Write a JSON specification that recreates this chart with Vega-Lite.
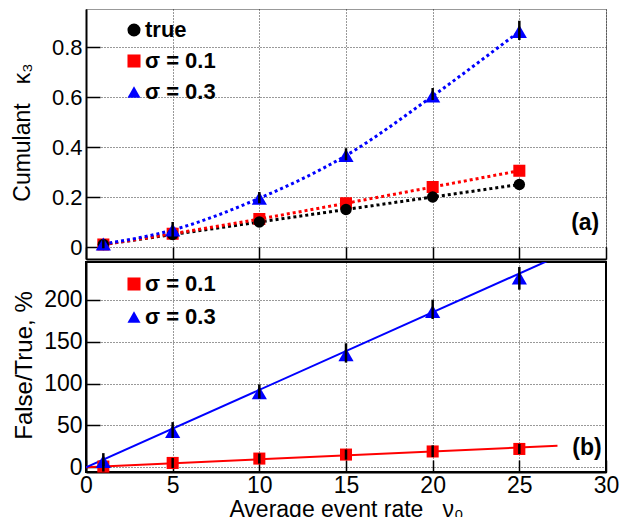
{
  "$schema": "https://vega.github.io/schema/vega-lite/v6.json",
  "autosize": {"type": "pad"},
  "padding": {"left": 10, "top": 8, "right": 5, "bottom": 0},
  "spacing": 0,
  "background": "white",
  "config": {
    "font": "Liberation Sans",
    "axis": {
      "domainColor": "black",
      "domainWidth": 2,
      "tickColor": "black",
      "tickWidth": 1.5,
      "grid": true,
      "gridColor": "black",
      "gridDash": [1, 2],
      "gridOpacity": 0.8,
      "gridWidth": 1,
      "labelColor": "black",
      "labelFont": "Liberation Sans",
      "titleFont": "Liberation Sans",
      "titleColor": "black",
      "titleFontWeight": "normal",
      "labelOverlap": false
    },
    "legend": {
      "orient": "none",
      "title": null,
      "padding": 0,
      "labelFontWeight": "bold",
      "labelColor": "black",
      "labelFont": "Liberation Sans",
      "symbolStrokeWidth": 0,
      "symbolSize": 170,
      "labelOffset": 0
    }
  },
  "datasets": {
    "top": [
      {"series": "σ = 0.1", "x": 1, "y": 0.010},
      {"series": "σ = 0.1", "x": 5, "y": 0.053},
      {"series": "σ = 0.1", "x": 10, "y": 0.112},
      {"series": "σ = 0.1", "x": 15, "y": 0.175},
      {"series": "σ = 0.1", "x": 20, "y": 0.240},
      {"series": "σ = 0.1", "x": 25, "y": 0.305},
      {"series": "true", "x": 1, "y": 0.010},
      {"series": "true", "x": 5, "y": 0.050},
      {"series": "true", "x": 10, "y": 0.100},
      {"series": "true", "x": 15, "y": 0.150},
      {"series": "true", "x": 20, "y": 0.200},
      {"series": "true", "x": 25, "y": 0.250},
      {"series": "σ = 0.3", "x": 1, "y": 0.012},
      {"series": "σ = 0.3", "x": 5, "y": 0.068},
      {"series": "σ = 0.3", "x": 10, "y": 0.195},
      {"series": "σ = 0.3", "x": 15, "y": 0.366},
      {"series": "σ = 0.3", "x": 20, "y": 0.604},
      {"series": "σ = 0.3", "x": 25, "y": 0.862}
    ],
    "topErr": [
      {"x": 1, "lo": -0.005, "hi": 0.030},
      {"x": 5, "lo": 0.035, "hi": 0.100},
      {"x": 10, "lo": 0.175, "hi": 0.220},
      {"x": 15, "lo": 0.347, "hi": 0.395},
      {"x": 20, "lo": 0.588, "hi": 0.636},
      {"x": 25, "lo": 0.828, "hi": 0.905}
    ],
    "bottom": [
      {"series": "σ = 0.1", "x": 1, "y": 1.0, "lo": -5, "hi": 7},
      {"series": "σ = 0.1", "x": 5, "y": 5.3, "lo": -0.7, "hi": 11.3},
      {"series": "σ = 0.1", "x": 10, "y": 10.5, "lo": 4.5, "hi": 16.5},
      {"series": "σ = 0.1", "x": 15, "y": 15.3, "lo": 9.3, "hi": 21.3},
      {"series": "σ = 0.1", "x": 20, "y": 19.0, "lo": 12.3, "hi": 26.3},
      {"series": "σ = 0.1", "x": 25, "y": 22.0, "lo": 16, "hi": 28},
      {"series": "σ = 0.3", "x": 1, "y": 7.0, "lo": 1.5, "hi": 17},
      {"series": "σ = 0.3", "x": 5, "y": 43.0, "lo": 35, "hi": 54},
      {"series": "σ = 0.3", "x": 10, "y": 89.0, "lo": 82, "hi": 99},
      {"series": "σ = 0.3", "x": 15, "y": 134.5, "lo": 125, "hi": 148},
      {"series": "σ = 0.3", "x": 20, "y": 186.0, "lo": 177, "hi": 200},
      {"series": "σ = 0.3", "x": 25, "y": 226.0, "lo": 212, "hi": 239}
    ],
    "fits": [
      {"series": "σ = 0.1", "x": 0, "y": 0.3},
      {"series": "σ = 0.1", "x": 27.2, "y": 25.8},
      {"series": "σ = 0.3", "x": 0, "y": 0},
      {"series": "σ = 0.3", "x": 27.2, "y": 251.6}
    ]
  },
  "vconcat": [
    {
      "width": 520,
      "height": 250,
      "view": {"stroke": "#999999", "strokeWidth": 1},
      "encoding": {
        "x": {
          "field": "x", "type": "quantitative",
          "scale": {"domain": [0, 30], "nice": false, "zero": false},
          "axis": {"values": [0, 5, 10, 15, 20, 25, 30], "labels": false, "title": null, "tickSize": -12}
        },
        "y": {
          "field": "y", "type": "quantitative",
          "scale": {"domain": [-0.048, 0.952], "nice": false, "zero": false},
          "axis": {
            "values": [0, 0.2, 0.4, 0.6, 0.8], "format": ".1~f",
            "tickSize": -14, "labelPadding": 18, "labelFontSize": 22,
            "title": "Cumulant\u00a0\u00a0\u00a0κ₃", "titleFontSize": 23,
            "titleX": -64, "titleY": 123, "titleAngle": -90,
            "titleBaseline": "middle", "titleAlign": "center"
          }
        }
      },
      "layer": [
        {
          "data": {"name": "top"},
          "transform": [{"filter": "datum.series === 'true'"}],
          "mark": {"type": "line", "color": "black", "strokeDash": [3, 3], "strokeWidth": 3, "interpolate": "monotone"},
          "encoding": {}
        },
        {
          "data": {"name": "top"},
          "transform": [{"filter": "datum.series === 'σ = 0.1'"}],
          "mark": {"type": "line", "color": "#ff0000", "strokeDash": [3, 3], "strokeWidth": 3, "interpolate": "monotone"},
          "encoding": {}
        },
        {
          "data": {"name": "top"},
          "transform": [{"filter": "datum.series === 'σ = 0.3'"}],
          "mark": {"type": "line", "color": "#0000ff", "strokeDash": [3, 3], "strokeWidth": 3, "interpolate": "monotone"},
          "encoding": {}
        },
        {
          "data": {"name": "top"},
          "transform": [{"filter": "datum.series === 'σ = 0.1'"}],
          "mark": {"type": "point", "filled": true, "opacity": 1, "size": 145},
          "encoding": {
            "color": {"field": "series", "type": "nominal",
              "scale": {"domain": ["true", "σ = 0.1", "σ = 0.3"], "range": ["black", "#ff0000", "#0000ff"]},
              "legend": {"legendX": 37, "legendY": 10, "labelFontSize": 22, "rowPadding": 9}},
            "shape": {"field": "series", "type": "nominal",
              "scale": {"domain": ["true", "σ = 0.1", "σ = 0.3"], "range": ["circle", "square", "triangle-up"]},
              "legend": {"legendX": 37, "legendY": 10, "labelFontSize": 22, "rowPadding": 9}}
          }
        },
        {
          "data": {"name": "top"},
          "transform": [{"filter": "datum.series === 'true'"}],
          "mark": {"type": "point", "filled": true, "opacity": 1, "size": 130},
          "encoding": {
            "color": {"field": "series", "type": "nominal",
              "scale": {"domain": ["true", "σ = 0.1", "σ = 0.3"], "range": ["black", "#ff0000", "#0000ff"]},
              "legend": {"legendX": 37, "legendY": 10, "labelFontSize": 22, "rowPadding": 9}},
            "shape": {"field": "series", "type": "nominal",
              "scale": {"domain": ["true", "σ = 0.1", "σ = 0.3"], "range": ["circle", "square", "triangle-up"]},
              "legend": {"legendX": 37, "legendY": 10, "labelFontSize": 22, "rowPadding": 9}}
          }
        },
        {
          "data": {"name": "top"},
          "transform": [{"filter": "datum.series === 'σ = 0.3'"}],
          "mark": {"type": "point", "filled": true, "opacity": 1, "size": 230},
          "encoding": {
            "color": {"field": "series", "type": "nominal",
              "scale": {"domain": ["true", "σ = 0.1", "σ = 0.3"], "range": ["black", "#ff0000", "#0000ff"]},
              "legend": {"legendX": 37, "legendY": 10, "labelFontSize": 22, "rowPadding": 9}},
            "shape": {"field": "series", "type": "nominal",
              "scale": {"domain": ["true", "σ = 0.1", "σ = 0.3"], "range": ["circle", "square", "triangle-up"]},
              "legend": {"legendX": 37, "legendY": 10, "labelFontSize": 22, "rowPadding": 9}}
          }
        },
        {
          "data": {"name": "topErr"},
          "mark": {"type": "rule", "color": "black", "strokeWidth": 2.5},
          "encoding": {
            "y": {"field": "lo", "type": "quantitative"},
            "y2": {"field": "hi"}
          }
        },
        {
          "data": {"values": [{"label": "(a)", "x": 28.8, "y": 0.095}]},
          "mark": {"type": "text", "fontWeight": "bold", "fontSize": 23, "align": "center", "baseline": "middle", "color": "black"},
          "encoding": {"text": {"field": "label"}}
        }
      ]
    },
    {
      "width": 520,
      "height": 210,
      "view": {"stroke": "black", "strokeWidth": 2},
      "encoding": {
        "x": {
          "field": "x", "type": "quantitative",
          "scale": {"domain": [0, 30], "nice": false, "zero": false},
          "axis": {"values": [0, 5, 10, 15, 20, 25, 30], "tickSize": -12, "labelPadding": 14,
            "labelFontSize": 23, "labelFlush": false,
            "title": "Average event rate\u00a0\u00a0\u00a0ν₀", "titleFontSize": 23, "titleY": 44, "titleBaseline": "alphabetic"}
        },
        "y": {
          "field": "y", "type": "quantitative",
          "scale": {"domain": [-5.5, 245], "nice": false, "zero": false},
          "axis": {
            "values": [0, 50, 100, 150, 200],
            "tickSize": -14, "labelPadding": 18, "labelFontSize": 23,
            "title": "False/True, %", "titleFontSize": 24,
            "titleX": -62, "titleY": 103, "titleAngle": -90,
            "titleBaseline": "middle", "titleAlign": "center"
          }
        }
      },
      "layer": [
        {
          "data": {"name": "fits"},
          "transform": [{"filter": "datum.series === 'σ = 0.1'"}],
          "mark": {"type": "line", "color": "#ff0000", "strokeWidth": 2, "clip": true},
          "encoding": {}
        },
        {
          "data": {"name": "fits"},
          "transform": [{"filter": "datum.series === 'σ = 0.3'"}],
          "mark": {"type": "line", "color": "#0000ff", "strokeWidth": 2, "clip": true},
          "encoding": {}
        },
        {
          "data": {"name": "bottom"},
          "transform": [{"filter": "datum.series === 'σ = 0.1'"}],
          "mark": {"type": "point", "filled": true, "opacity": 1, "size": 145},
          "encoding": {
            "color": {"field": "series", "type": "nominal",
              "scale": {"domain": ["σ = 0.1", "σ = 0.3"], "range": ["#ff0000", "#0000ff"]},
              "legend": {"legendX": 37, "legendY": 11, "labelFontSize": 22, "rowPadding": 11}},
            "shape": {"field": "series", "type": "nominal",
              "scale": {"domain": ["σ = 0.1", "σ = 0.3"], "range": ["square", "triangle-up"]},
              "legend": {"legendX": 37, "legendY": 11, "labelFontSize": 22, "rowPadding": 11}}
          }
        },
        {
          "data": {"name": "bottom"},
          "transform": [{"filter": "datum.series === 'σ = 0.3'"}],
          "mark": {"type": "point", "filled": true, "opacity": 1, "size": 230},
          "encoding": {
            "color": {"field": "series", "type": "nominal",
              "scale": {"domain": ["σ = 0.1", "σ = 0.3"], "range": ["#ff0000", "#0000ff"]},
              "legend": {"legendX": 37, "legendY": 11, "labelFontSize": 22, "rowPadding": 11}},
            "shape": {"field": "series", "type": "nominal",
              "scale": {"domain": ["σ = 0.1", "σ = 0.3"], "range": ["square", "triangle-up"]},
              "legend": {"legendX": 37, "legendY": 11, "labelFontSize": 22, "rowPadding": 11}}
          }
        },
        {
          "data": {"name": "bottom"},
          "mark": {"type": "rule", "color": "black", "strokeWidth": 2.5},
          "encoding": {
            "y": {"field": "lo", "type": "quantitative"},
            "y2": {"field": "hi"}
          }
        },
        {
          "data": {"values": [{"label": "(b)", "x": 28.9, "y": 23.3}]},
          "mark": {"type": "text", "fontWeight": "bold", "fontSize": 23, "align": "center", "baseline": "middle", "color": "black"},
          "encoding": {"text": {"field": "label"}}
        }
      ]
    }
  ],
  "resolve": {
    "scale": {"color": "independent", "shape": "independent", "y": "independent"},
    "legend": {"color": "independent", "shape": "independent"}
  }
}
